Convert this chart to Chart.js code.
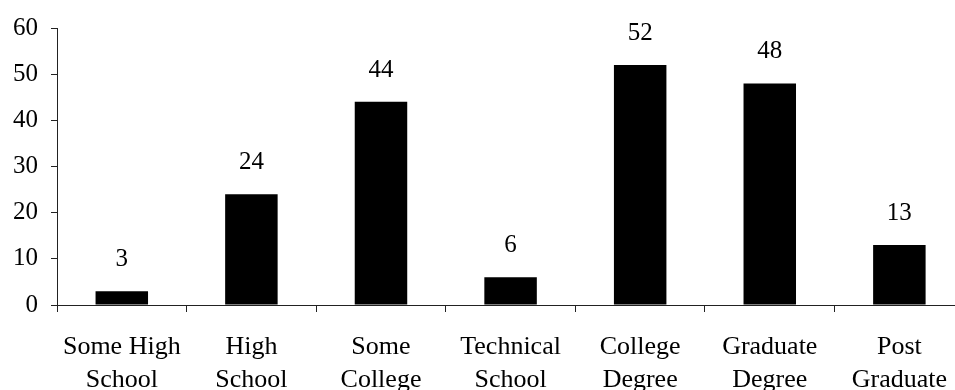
<!DOCTYPE html>
<html>
<head>
<meta charset="utf-8">
<script src="https://cdn.jsdelivr.net/npm/chart.js@4"></script>
<style>
  html, body { margin: 0; padding: 0; background: #fff; }
  #wrap { width: 955px; height: 390px; overflow: hidden; position: relative; }
  canvas { display: block; }
</style>
</head>
<body>
<div id="wrap"><canvas id="chart" width="966" height="390"></canvas></div>
<script>
// Education level categories (two-line labels)
const categories = [
  ['Some High', 'School'],
  ['High', 'School'],
  ['Some', 'College'],
  ['Technical', 'School'],
  ['College', 'Degree'],
  ['Graduate', 'Degree'],
  ['Post', 'Graduate']
];

// Number of respondents per level
const counts = [3, 24, 44, 6, 52, 48, 13];

// Y axis range and step
const yMin = 0;
const yMax = 60;
const yStep = 10;

const serif = '"Liberation Serif", "Times New Roman", serif';

// Writes each bar's value above it, positioned from the bar element
const valueLabels = {
  id: 'valueLabels',
  afterDatasetsDraw(chart) {
    const ctx = chart.ctx;
    const meta = chart.getDatasetMeta(0);
    ctx.save();
    ctx.font = '25px ' + serif;
    ctx.fillStyle = '#000';
    ctx.textAlign = 'center';
    ctx.textBaseline = 'alphabetic';
    meta.data.forEach((bar, i) => {
      ctx.fillText(String(counts[i]), bar.x, bar.y - 25);
    });
    ctx.restore();
  }
};

new Chart(document.getElementById('chart'), {
  type: 'bar',
  data: {
    labels: categories,
    datasets: [{
      data: counts,
      backgroundColor: '#000',
      borderWidth: 0,
      barPercentage: 0.405,
      categoryPercentage: 1.0
    }]
  },
  options: {
    responsive: false,
    animation: false,
    events: [],
    layout: { padding: { top: 25, left: 0, right: 0, bottom: 0 } },
    plugins: {
      legend: { display: false },
      tooltip: { enabled: false }
    },
    scales: {
      x: {
        offset: true,
        grid: {
          offset: true,
          drawOnChartArea: false,
          drawTicks: true,
          tickLength: 7,
          color: '#222',
          lineWidth: 1
        },
        border: { display: true, color: '#222', width: 1 },
        ticks: {
          color: '#000',
          padding: 19,
          maxRotation: 0,
          autoSkip: false,
          font: { family: serif, size: 26, lineHeight: 1.27 }
        },
        afterFit(scale) { scale.height = 85; }
      },
      y: {
        min: yMin,
        max: yMax,
        grid: {
          drawOnChartArea: false,
          drawTicks: true,
          tickLength: 6,
          color: '#222',
          lineWidth: 1
        },
        border: { display: true, color: '#222', width: 1 },
        ticks: {
          stepSize: yStep,
          color: '#000',
          padding: 13,
          font: { family: serif, size: 25 }
        },
        afterFit(scale) { scale.width = 57; }
      }
    }
  },
  plugins: [valueLabels]
});
</script>
</body>
</html>
